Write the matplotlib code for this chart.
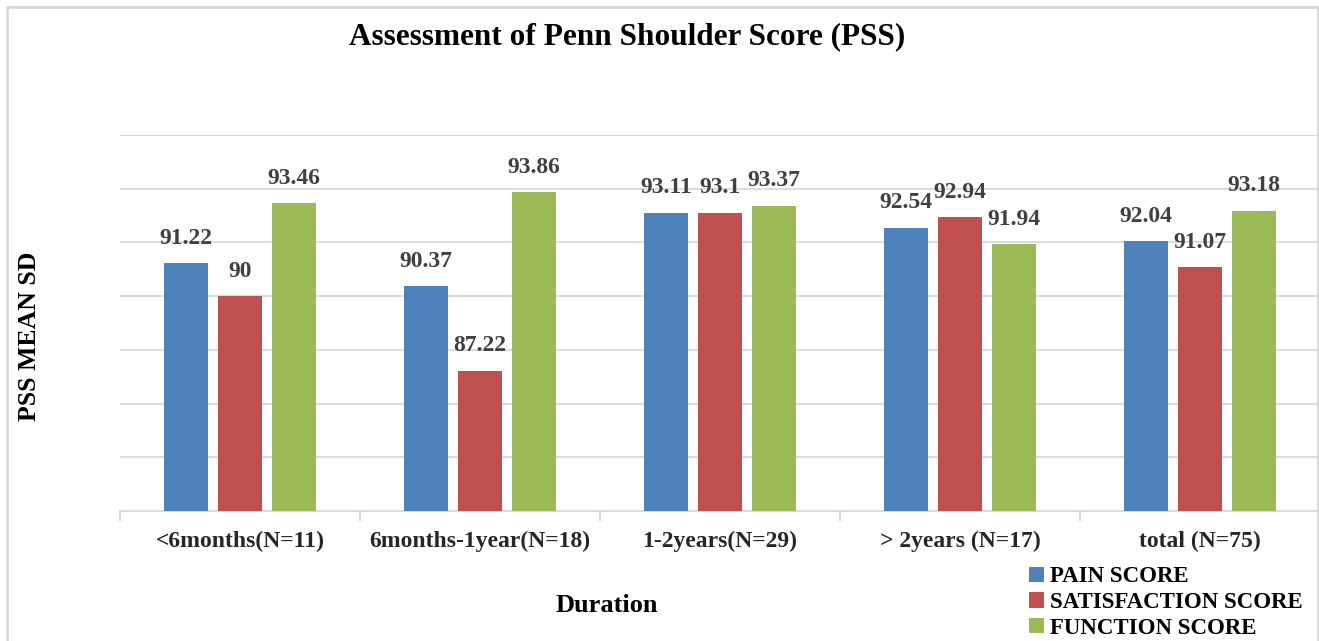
import numpy as np
import matplotlib
matplotlib.use("Agg")
import matplotlib.pyplot as plt
from matplotlib.patches import Rectangle

plt.rcParams['font.family'] = ['Liberation Serif', 'DejaVu Serif']
plt.rcParams['font.weight'] = 'bold'

categories = ['<6months(N=11)', '6months-1year(N=18)', '1-2years(N=29)',
              '> 2years (N=17)', 'total (N=75)']
pain = [91.22, 90.37, 93.11, 92.54, 92.04]
satisfaction = [90, 87.22, 93.1, 92.94, 91.07]
function = [93.46, 93.86, 93.37, 91.94, 93.18]
series_names = ['PAIN SCORE', 'SATISFACTION SCORE', 'FUNCTION SCORE']
colors = ['#4F81BD', '#C0504D', '#9BBB59']

fig = plt.figure(figsize=(13.19, 6.41), dpi=100)
ax = fig.add_axes([120/1319, 1-511/641, 1200/1319, (511-135)/641])

x = np.arange(len(categories))
w = 0.18
step = 0.225
label_strs = [['91.22', '90.37', '93.11', '92.54', '92.04'],
              ['90', '87.22', '93.1', '92.94', '91.07'],
              ['93.46', '93.86', '93.37', '91.94', '93.18']]
handles = []
for i, vals in enumerate([pain, satisfaction, function]):
    pos = x + (i - 1) * step
    b = ax.bar(pos, np.array(vals) - 82, bottom=82, width=w, color=colors[i],
               label=series_names[i], zorder=3)
    handles.append(b)
    for xp, v, s in zip(pos, vals, label_strs[i]):
        ax.annotate(s, (xp, v), xytext=(0, 18), textcoords='offset points',
                    ha='center', va='center', fontsize=17, color='#404040',
                    fontweight='bold')

ax.set_xlim(-0.5, 4.5)
ax.set_ylim(82, 96)
ax.set_yticks(np.arange(82, 97, 2))
ax.set_yticklabels([])
ax.tick_params(axis='y', length=0)
ax.grid(axis='y', color='#d9d9d9', linewidth=1.3, zorder=0)
for s in ['top', 'right', 'left']:
    ax.spines[s].set_visible(False)
ax.spines['bottom'].set_color('#d9d9d9')
ax.spines['bottom'].set_linewidth(1.3)

ax.set_xticks(np.arange(-0.5, 4.6, 1.0), minor=False)
ax.set_xticklabels([])
ax.tick_params(axis='x', which='major', length=7, color='#d9d9d9', width=1.3)
ax.set_xticks(x, minor=True)
ax.set_xticklabels(categories, minor=True, fontsize=17, color='#262626',
                   fontweight='bold')
ax.tick_params(axis='x', which='minor', length=0, pad=14)

fig.text(627/1319, 1-37/641, 'Assessment of Penn Shoulder Score (PSS)',
         ha='center', va='center', fontsize=22.5, fontweight='bold')
fig.text(30/1319, 1-336/641, 'PSS MEAN SD', rotation=90, ha='center',
         va='center', fontsize=18.5, fontweight='bold')
fig.text(607/1319, 1-606/641, 'Duration', ha='center', va='center',
         fontsize=19, fontweight='bold')

fig.legend(handles=handles, loc='upper left',
           bbox_to_anchor=(1018/1319, 1-555/641), frameon=False,
           handlelength=0.65, handleheight=0.65,
           handletextpad=0.25, labelspacing=0.2, borderpad=0,
           prop={'weight': 'bold', 'size': 16.5})

fig.patches.append(Rectangle((7/1319, -0.1), 1311/1319, 1.1 - 7/641,
                             transform=fig.transFigure, fill=False,
                             edgecolor='#d9d9d9', linewidth=2))

fig.savefig('out.png', dpi=100)
